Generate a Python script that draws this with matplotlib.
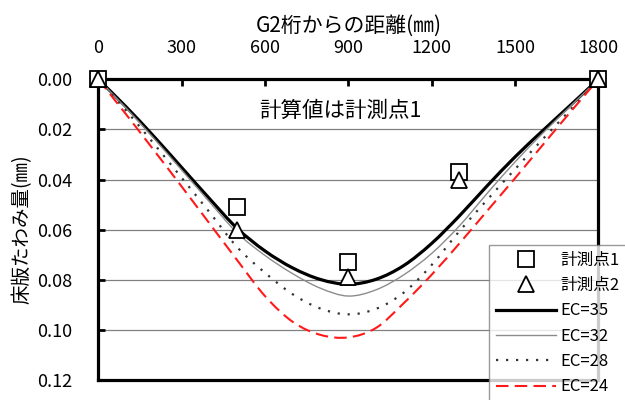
import matplotlib
matplotlib.use("Agg")
import matplotlib.pyplot as plt
from matplotlib.path import Path
from matplotlib.patches import PathPatch
from matplotlib.lines import Line2D
from matplotlib.ticker import FormatStrFormatter

plt.rcParams['font.family'] = ['Noto Sans CJK JP', 'DejaVu Sans']

# distance from G2 girder (mm)
x_calc = [0, 100, 200, 300, 400, 500, 600, 700, 800, 900,
          1000, 1100, 1200, 1300, 1400, 1500, 1600, 1700, 1800]

# calculated deck deflection (mm) for each EC value
ec35 = [0, 0.0110, 0.0228, 0.0352, 0.0476, 0.0595, 0.0685, 0.0753, 0.0799, 0.0818,
        0.0798, 0.0743, 0.0655, 0.0545, 0.0425, 0.0310, 0.0205, 0.0103, 0]
ec32 = [0, 0.0115, 0.0236, 0.0362, 0.0489, 0.0613, 0.0703, 0.0776, 0.0834, 0.0865,
        0.0840, 0.0780, 0.0695, 0.0585, 0.0455, 0.0330, 0.0215, 0.0107, 0]
ec28 = [0, 0.0125, 0.0257, 0.0393, 0.0530, 0.0670, 0.0772, 0.0858, 0.0915, 0.0938,
        0.0916, 0.0851, 0.0741, 0.0606, 0.0481, 0.0359, 0.0239, 0.0121, 0]
ec24 = [0, 0.0140, 0.0283, 0.0428, 0.0575, 0.0722, 0.0865, 0.0968, 0.1020, 0.1030,
        0.0992, 0.0893, 0.0780, 0.0655, 0.0525, 0.0395, 0.0262, 0.0130, 0]

# measured points
x_meas = [0, 500, 900, 1300, 1800]
meas1 = [0, 0.051, 0.073, 0.037, 0]
meas2 = [0, 0.060, 0.079, 0.040, 0]


def smooth_path(xs, ys):
    # Catmull-Rom style bezier through the points (like a spreadsheet "smoothed line")
    pts = list(zip(xs, ys))
    verts = [pts[0]]
    codes = [Path.MOVETO]
    n = len(pts)
    for i in range(n - 1):
        p0 = pts[i - 1] if i > 0 else pts[i]
        p1, p2 = pts[i], pts[i + 1]
        p3 = pts[i + 2] if i + 2 < n else pts[i + 1]
        c1 = (p1[0] + (p2[0] - p0[0]) / 6, p1[1] + (p2[1] - p0[1]) / 6)
        c2 = (p2[0] - (p3[0] - p1[0]) / 6, p2[1] - (p3[1] - p1[1]) / 6)
        verts += [c1, c2, p2]
        codes += [Path.CURVE4] * 3
    return Path(verts, codes)


fig = plt.figure(figsize=(6.25, 4.0), dpi=100)
ax = fig.add_axes([0.1573, 0.05, 0.80, 0.7518])

for y in [0.02, 0.04, 0.06, 0.08, 0.10]:
    ax.axhline(y, color='#808080', lw=0.9, zorder=1)

styles = [
    ('EC=35', ec35, dict(color='black', lw=2.3)),
    ('EC=32', ec32, dict(color='#8c8c8c', lw=1.0)),
    ('EC=28', ec28, dict(color='#333333', lw=1.6, ls=(0, (1, 3.5)))),
    ('EC=24', ec24, dict(color='#ff1a1a', lw=1.5, ls=(0, (6, 3)))),
]

m1, = ax.plot(x_meas, meas1, ls='none', marker='s', ms=11, mfc='white', mec='black',
              mew=1.3, label='計測点1', zorder=4, clip_on=False)
m2, = ax.plot(x_meas, meas2, ls='none', marker='^', ms=11, mfc='white', mec='black',
              mew=1.3, label='計測点2', zorder=5, clip_on=False)

handles = [m1, m2]
for name, vals, st in styles:
    patch = PathPatch(smooth_path(x_calc, vals), fill=False, edgecolor=st['color'],
                      lw=st['lw'], ls=st.get('ls', '-'), zorder=3,
                      capstyle='butt')
    ax.add_patch(patch)
    handles.append(Line2D([], [], color=st['color'], lw=st['lw'],
                          ls=st.get('ls', '-'), label=name))

ax.set_xlim(0, 1800)
ax.set_ylim(0.12, 0.0)
ax.set_xticks([0, 300, 600, 900, 1200, 1500, 1800])
ax.set_yticks([0.0, 0.02, 0.04, 0.06, 0.08, 0.10, 0.12])
ax.yaxis.set_major_formatter(FormatStrFormatter('%.2f'))
ax.xaxis.tick_top()
ax.xaxis.set_label_position('top')
ax.tick_params(axis='x', direction='in', length=5, width=2, labelsize=13, pad=16)
ax.tick_params(axis='y', direction='in', length=5, width=2, labelsize=13, pad=19)

for s in ax.spines.values():
    s.set_linewidth(2.3)

ax.set_xlabel('G2桁からの距離(㎜)', fontsize=15, labelpad=5)
ax.set_ylabel('床版たわみ量(㎜)', fontsize=14, labelpad=3)

ax.text(870, 0.0125, '計算値は計測点1', fontsize=15.5, ha='center', va='center')

leg = fig.legend(handles=handles, loc='upper left',
                 bbox_to_anchor=(489 / 625, 1 - 245 / 400),
                 fontsize=12, frameon=True, fancybox=False, handlelength=3.6,
                 labelspacing=0.5, borderpad=0.4, handletextpad=0.3,
                 borderaxespad=0)
leg.get_frame().set_edgecolor('#808080')
leg.get_frame().set_linewidth(1.0)

fig.savefig('out.png', dpi=100)
